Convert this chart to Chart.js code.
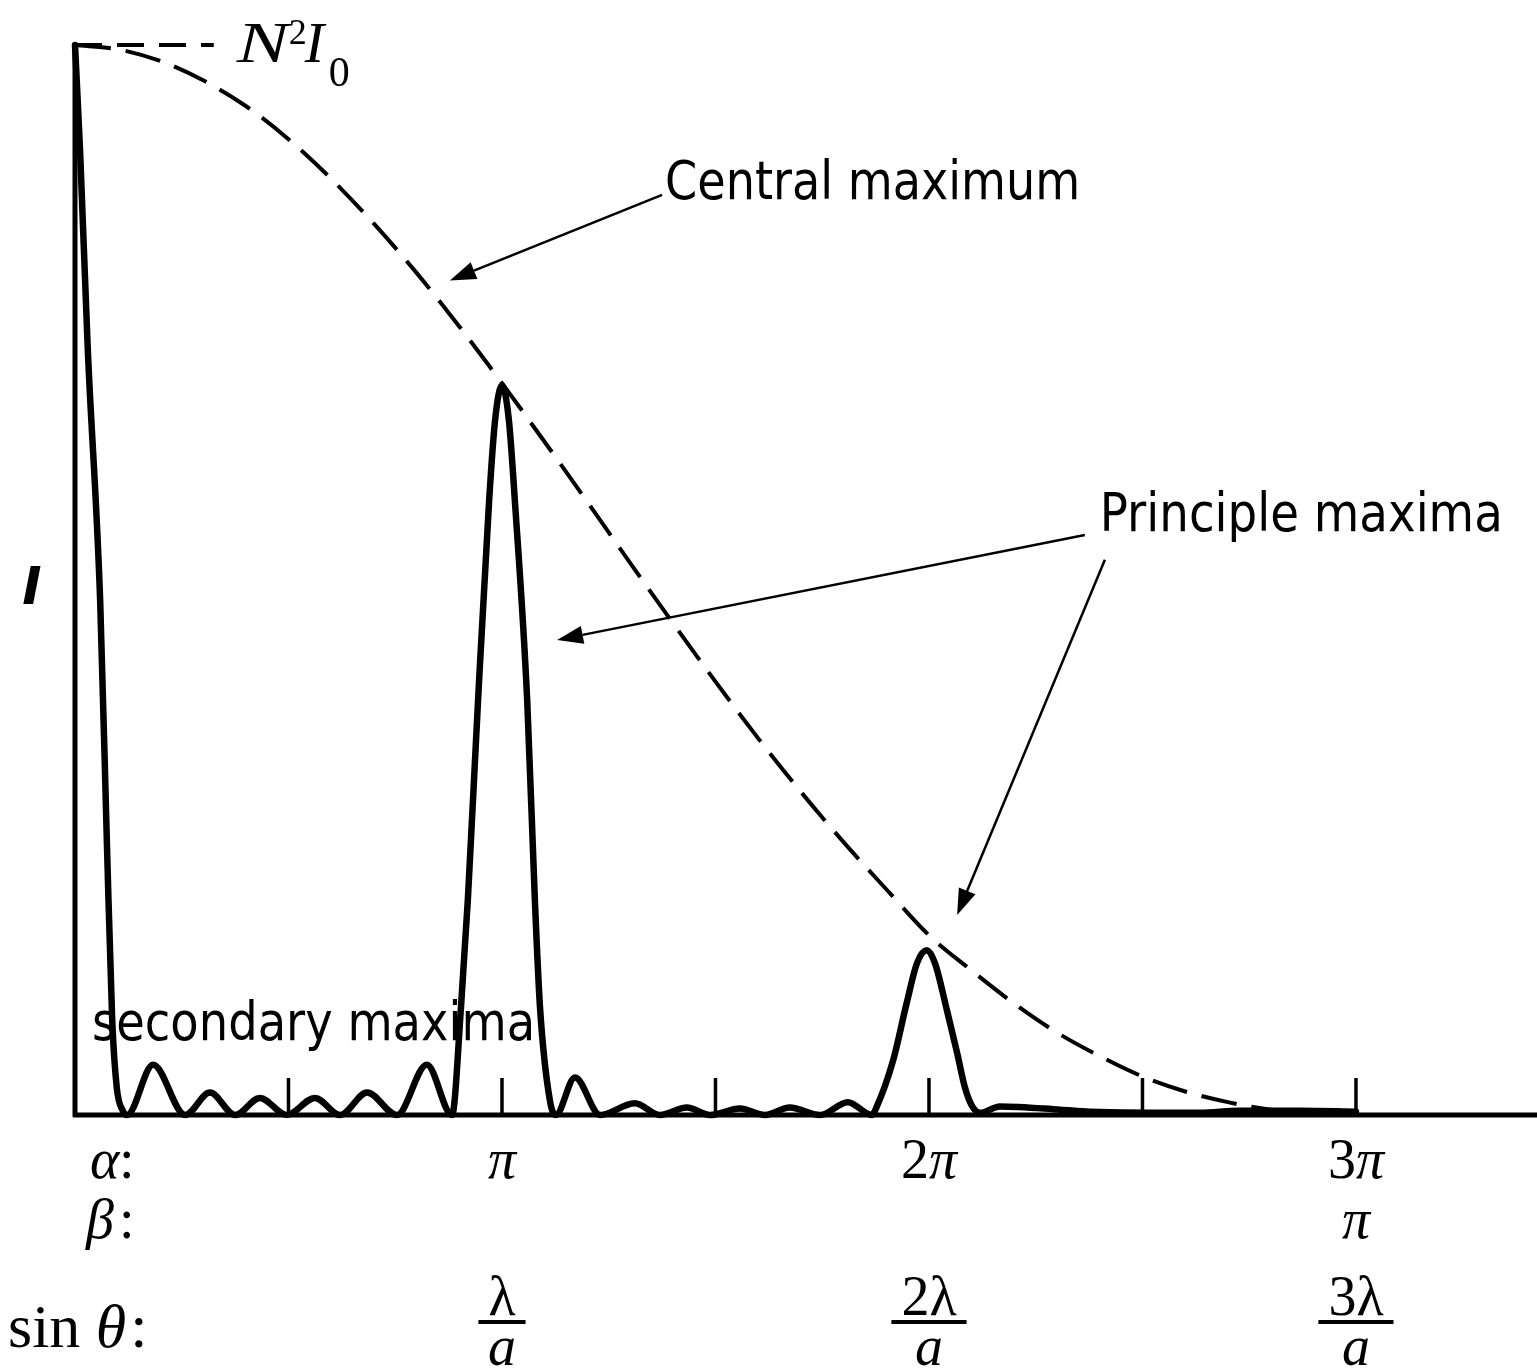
<!DOCTYPE html>
<html>
<head>
<meta charset="utf-8">
<script src="https://cdn.jsdelivr.net/npm/chart.js@4/dist/chart.umd.min.js"></script>
<style>
  html, body { margin: 0; padding: 0; background: #fff; }
  canvas { display: block; }
</style>
</head>
<body>
<canvas id="myChart" width="1537" height="1369"></canvas>
<script>
// x is alpha / pi, y is I / (N^2 I0)
const curveX = [0, 0.012, 0.030, 0.059, 0.075, 0.087, 0.098, 0.112, 0.122,
  0.183, 0.258, 0.316, 0.375, 0.433, 0.496, 0.562, 0.621, 0.684, 0.754, 0.824, 0.883,
  0.904, 0.920, 0.944, 0.970, 0.984, 1.0, 1.016, 1.030, 1.059, 1.077, 1.089, 1.112, 1.126,
  1.171, 1.230, 1.311, 1.370, 1.433, 1.487, 1.557, 1.616, 1.674, 1.745, 1.810, 1.866,
  1.878, 1.916, 1.948, 1.972, 1.995, 2.014, 2.042, 2.066, 2.084, 2.100, 2.120,
  2.166, 2.307, 2.377, 2.635, 2.728, 2.869, 3.0];
const curveY = [1.0, 0.90, 0.715, 0.48, 0.25, 0.09, 0.025, 0.004, 0,
  0.047, 0, 0.021, 0, 0.016, 0, 0.016, 0, 0.021, 0, 0.047, 0,
  0.101, 0.201, 0.388, 0.575, 0.650, 0.682, 0.650, 0.575, 0.388, 0.201, 0.101, 0.014, 0,
  0.035, 0, 0.011, 0, 0.007, 0, 0.006, 0, 0.007, 0, 0.012, 0,
  0.008, 0.051, 0.105, 0.142, 0.154, 0.142, 0.098, 0.058, 0.026, 0.009, 0.002,
  0.008, 0.005, 0.003, 0.002, 0.004, 0.004, 0.003];

// single-slit envelope (dashed)
const envX = [0, 0.1, 0.2, 0.3, 0.4, 0.5, 0.6, 0.7, 0.8, 0.9, 1.0, 1.1, 1.2, 1.3, 1.4, 1.5,
  1.6, 1.7, 1.8, 1.9, 2.0, 2.1, 2.2, 2.3, 2.4, 2.5, 2.6, 2.7, 2.8, 2.9, 3.0];
const envY = [1.0, 0.996, 0.985, 0.967, 0.943, 0.912, 0.875, 0.833, 0.787, 0.737, 0.684, 0.629, 0.573, 0.516, 0.460, 0.405,
  0.352, 0.302, 0.255, 0.211, 0.168, 0.135, 0.104, 0.077, 0.055, 0.036, 0.022, 0.012, 0.005, 0.001, 0];

// dashed cap line out to the N^2 I0 label
const capX = [0, 0.325];
const capY = [1, 1];

const tickVals = [0.5, 1, 1.5, 2, 2.5, 3];
const labelVals = [1, 2, 3];
const alphaNums = ['', '2', '3'];
const betaLabels = ['', '', 'π'];
const sinNums = ['', '2', '3'];

function pts(xs, ys) {
  return xs.map((x, i) => ({ x: x, y: ys[i] }));
}

const serif = '"Liberation Serif", "Times New Roman", serif';
const hand = '"DejaVu Sans", sans-serif';

// draw text squeezed/stretched to a given width
function fitText(c, str, font, x, y, width) {
  c.save();
  c.font = font;
  const w = c.measureText(str).width;
  c.translate(x, y);
  c.scale(width / w, 1);
  c.textAlign = 'left';
  c.fillText(str, 0, 0);
  c.restore();
}

// number (upright) followed by a symbol, centred on x
function numSym(c, num, sym, symFont, x, y) {
  c.font = '56px ' + serif;
  const nw = c.measureText(num).width;
  c.font = symFont;
  const sw = c.measureText(sym).width;
  const x0 = x - (nw + sw) / 2;
  c.textAlign = 'left';
  c.font = '56px ' + serif;
  c.fillText(num, x0, y);
  c.font = symFont;
  c.fillText(sym, x0 + nw, y);
  return nw + sw;
}

function arrow(c, x1, y1, x2, y2) {
  const ang = Math.atan2(y2 - y1, x2 - x1);
  const len = 26, hw = 9;
  const bx = x2 - len * Math.cos(ang), by = y2 - len * Math.sin(ang);
  c.beginPath();
  c.moveTo(x1, y1);
  c.lineTo(bx, by);
  c.stroke();
  c.beginPath();
  c.moveTo(x2, y2);
  c.lineTo(bx + hw * Math.sin(ang), by - hw * Math.cos(ang));
  c.lineTo(bx - hw * Math.sin(ang), by + hw * Math.cos(ang));
  c.closePath();
  c.fill();
}

const extras = {
  id: 'extras',
  beforeDatasetsDraw(chart) {
    const c = chart.ctx, a = chart.chartArea, xs = chart.scales.x;
    c.save();
    c.strokeStyle = '#000';
    c.lineWidth = 5;
    c.beginPath();
    c.moveTo(a.left, a.top);
    c.lineTo(a.left, a.bottom + 2);
    c.stroke();
    c.beginPath();
    c.moveTo(a.left - 2, a.bottom);
    c.lineTo(a.right, a.bottom);
    c.stroke();
    c.lineWidth = 3.5;
    tickVals.forEach(v => {
      const x = xs.getPixelForValue(v);
      c.beginPath();
      c.moveTo(x, a.bottom);
      c.lineTo(x, a.bottom - 37);
      c.stroke();
    });
    c.restore();
  },
  afterDraw(chart) {
    const c = chart.ctx, a = chart.chartArea, xs = chart.scales.x, ys = chart.scales.y;
    const P = (x, y) => [xs.getPixelForValue(x), ys.getPixelForValue(y)];
    c.save();
    c.fillStyle = '#000';
    c.strokeStyle = '#000';
    c.textBaseline = 'alphabetic';

    // N^2 I0
    const n = P(0.379, 0.984);
    fitText(c, 'N', 'italic 58px ' + serif, n[0], n[1], 52);
    c.textAlign = 'left';
    c.font = '36px ' + serif;
    c.fillText('2', n[0] + 52, n[1] - 18);
    c.font = 'italic 58px ' + serif;
    c.fillText('I', n[0] + 68, n[1]);
    c.font = '42px ' + serif;
    c.fillText('0', n[0] + 92, n[1] + 24);

    // y label
    const il = P(-0.101, 0.478);
    c.textAlign = 'center';
    c.font = 'italic bold 52px ' + hand;
    c.fillText('I', il[0], il[1]);

    // annotations
    let p = P(1.382, 0.856);
    fitText(c, 'Central maximum', '54px ' + hand, p[0], p[1], 415);
    p = P(2.400, 0.546);
    fitText(c, 'Principle maxima', '54px ' + hand, p[0], p[1], 403);
    p = P(0.040, 0.070);
    fitText(c, 'secondary maxima', '54px ' + hand, p[0], p[1], 443);

    c.lineWidth = 2.5;
    let t = P(1.375, 0.860), h = P(0.878, 0.780);
    arrow(c, t[0], t[1], h[0], h[1]);
    t = P(2.365, 0.542); h = P(1.129, 0.444);
    arrow(c, t[0], t[1], h[0], h[1]);
    t = P(2.412, 0.519); h = P(2.066, 0.187);
    arrow(c, t[0], t[1], h[0], h[1]);

    // bottom rows
    const b = a.bottom;
    c.textAlign = 'left';
    c.font = 'italic 56px ' + serif;
    c.fillText('α', 90, b + 63);
    c.fillText('β', 86, b + 123);
    c.font = '56px ' + serif;
    c.fillText(':', 119, b + 63);
    c.fillText(':', 119, b + 123);
    c.font = '62px ' + serif;
    c.fillText('sin ', 8, b + 232);
    const sw = c.measureText('sin ').width;
    c.font = 'italic 62px ' + serif;
    c.fillText('θ', 8 + sw, b + 232);
    const tw = c.measureText('θ').width;
    c.font = '62px ' + serif;
    c.fillText(':', 12 + sw + tw, b + 232);

    labelVals.forEach((v, i) => {
      const x = xs.getPixelForValue(v);
      numSym(c, alphaNums[i], 'π', 'italic 56px ' + serif, x, b + 63);
      if (betaLabels[i]) numSym(c, '', betaLabels[i], 'italic 56px ' + serif, x, b + 123);
      const w = numSym(c, sinNums[i], 'λ', '56px ' + serif, x, b + 200);
      const bw = w + 20;
      c.fillRect(x - bw / 2, b + 205, bw, 4);
      c.textAlign = 'center';
      c.font = 'italic 56px ' + serif;
      c.fillText('a', x, b + 250);
    });
    c.restore();
  }
};

const ctx = document.getElementById('myChart').getContext('2d');
const myChart = new Chart(ctx, {
  type: 'scatter',
  data: {
    datasets: [{
      data: pts(curveX, curveY),
      showLine: true,
      borderColor: '#000',
      borderWidth: 6.5,
      cubicInterpolationMode: 'monotone',
      borderJoinStyle: 'round',
      borderCapStyle: 'round',
      pointRadius: 0,
      clip: 12
    }, {
      data: pts(envX, envY),
      showLine: true,
      borderColor: '#000',
      borderWidth: 4,
      borderDash: [36, 15],
      cubicInterpolationMode: 'monotone',
      pointRadius: 0,
      clip: 12
    }, {
      data: pts(capX, capY),
      showLine: true,
      borderColor: '#000',
      borderWidth: 4,
      borderDash: [27, 15],
      pointRadius: 0,
      clip: 12
    }]
  },
  options: {
    responsive: false,
    animation: false,
    layout: { padding: { left: 75, right: 0, top: 45, bottom: 254 } },
    plugins: { legend: { display: false }, tooltip: { enabled: false } },
    scales: {
      x: { type: 'linear', min: 0, max: 3.424, display: false },
      y: { min: 0, max: 1, display: false }
    }
  },
  plugins: [extras]
});
</script>
</body>
</html>
